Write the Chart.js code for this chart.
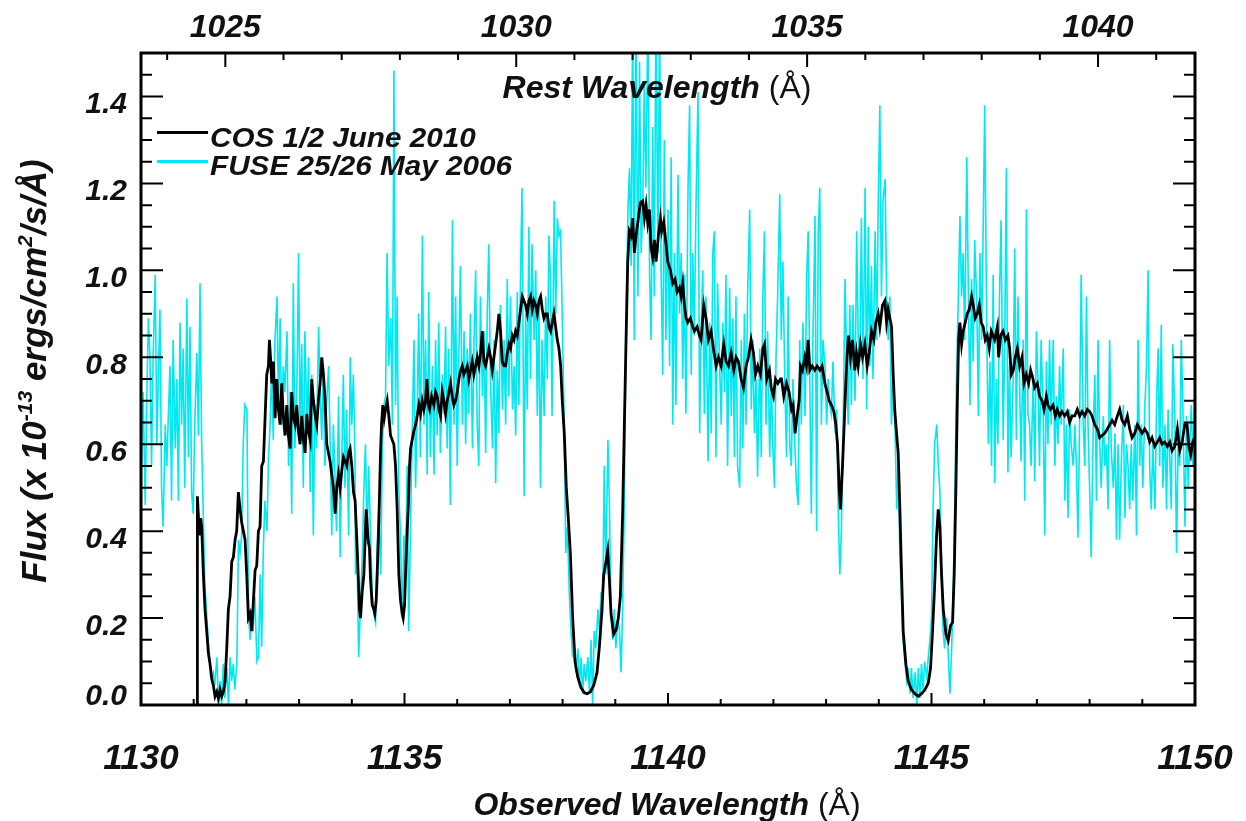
<!DOCTYPE html>
<html>
<head>
<meta charset="utf-8">
<script src="https://cdn.jsdelivr.net/npm/chart.js@4.4.0/dist/chart.umd.min.js"></script>
<style>
  html, body { margin: 0; padding: 0; background: #fff; }
  canvas { display: block; }
</style>
</head>
<body>
<canvas id="c" width="1246" height="821"></canvas>
<script>
// ---------------- DATA ----------------
const redshiftFactor = 1.104; // observed / rest wavelength (1+z)

const obsTicks = [1130, 1135, 1140, 1145, 1150];
const obsMinorTicks = [1131, 1132, 1133, 1134, 1136, 1137, 1138, 1139, 1141, 1142, 1143, 1144, 1146, 1147, 1148, 1149];
const restTicks = [1025, 1030, 1035, 1040];
const restMinorTicks = [1024, 1026, 1027, 1028, 1029, 1031, 1032, 1033, 1034, 1036, 1037, 1038, 1039, 1041];
const fluxTicks = [0.0, 0.2, 0.4, 0.6, 0.8, 1.0, 1.2, 1.4];
const fluxMinorTicks = [0.05, 0.1, 0.15, 0.25, 0.3, 0.35, 0.45, 0.5, 0.55, 0.65, 0.7, 0.75, 0.85, 0.9, 0.95, 1.05, 1.1, 1.15, 1.25, 1.3, 1.35, 1.45];

const seriesLabels = ['COS 1/2 June 2010', 'FUSE 25/26 May 2006'];

// COS (black) observed wavelength (Å) and flux
const cosWave = [
1131.065,1131.07,1131.108,1131.133,1131.152,1131.184,1131.215,1131.247,1131.278,1131.310,
1131.342,1131.373,1131.405,1131.437,1131.468,1131.500,1131.532,1131.563,1131.595,1131.627,
1131.658,1131.690,1131.722,1131.753,1131.785,1131.816,1131.848,1131.880,1131.911,1131.943,
1131.975,1132.006,1132.038,1132.070,1132.101,1132.133,1132.165,1132.196,1132.228,1132.259,
1132.291,1132.323,1132.354,1132.386,1132.418,1132.437,1132.462,1132.481,1132.513,1132.544,
1132.576,1132.608,1132.639,1132.671,1132.703,1132.734,1132.766,1132.797,1132.829,1132.861,
1132.892,1132.924,1132.956,1132.987,1133.019,1133.051,1133.082,1133.114,1133.146,1133.177,
1133.209,1133.240,1133.272,1133.304,1133.335,1133.367,1133.399,1133.430,1133.462,1133.494,
1133.525,1133.557,1133.589,1133.620,1133.652,1133.684,1133.715,1133.747,1133.778,1133.810,
1133.842,1133.873,1133.905,1133.937,1133.968,1134.000,1134.032,1134.063,
1134.102,1134.121,1134.146,1134.165,1134.197,1134.229,1134.260,1134.273,1134.311,1134.336,
1134.355,1134.387,1134.418,1134.437,1134.463,1134.482,1134.513,1134.545,1134.564,1134.589,
1134.615,1134.640,1134.672,1134.703,1134.735,1134.766,1134.798,1134.830,1134.861,1134.893,
1134.925,1134.956,1134.975,1135.001,1135.020,1135.051,1135.070,1135.096,1135.115,1135.146,
1135.178,1135.210,1135.241,1135.273,1135.304,1135.336,1135.368,1135.399,1135.425,1135.450,
1135.475,1135.513,1135.558,1135.589,1135.621,1135.653,1135.684,1135.716,1135.748,1135.779,
1135.811,1135.842,1135.874,1135.906,1135.937,1135.969,1136.001,1136.032,1136.064,1136.096,
1136.127,1136.159,1136.191,1136.222,1136.254,1136.285,1136.317,1136.349,1136.380,1136.412,
1136.444,1136.475,1136.507,1136.539,1136.570,1136.602,1136.634,1136.665,1136.697,1136.729,
1136.760,1136.792,1136.823,1136.855,1136.887,1136.918,1136.950,1136.982,1137.013,1137.045,
1137.077,1137.108,1137.140,1137.172,1137.203,1137.235,1137.266,1137.298,1137.330,1137.361,
1137.393,1137.425,1137.456,1137.488,1137.520,1137.551,1137.583,1137.615,1137.646,1137.678,
1137.710,1137.741,1137.773,1137.804,1137.836,1137.868,1137.899,1137.931,1137.963,1137.994,
1138.032,1138.070,1138.108,
1138.147,1138.191,1138.236,1138.286,1138.349,1138.413,1138.463,1138.527,1138.590,1138.653,
1138.698,1138.742,1138.780,1138.824,1138.856,1138.887,1138.919,1138.970,1139.014,1139.058,
1139.096,1139.141,1139.172,1139.204,1139.236,1139.267,1139.299,1139.330,1139.362,1139.394,
1139.438,1139.476,1139.520,1139.552,1139.584,1139.615,1139.647,1139.679,1139.710,1139.742,
1139.774,1139.818,1139.856,1139.881,1139.919,1139.963,1139.995,1140.046,1140.090,1140.134,
1140.172,1140.217,1140.248,1140.280,1140.312,1140.343,1140.375,1140.425,1140.470,1140.501,
1140.552,1140.596,1140.628,1140.679,1140.723,1140.767,1140.818,1140.862,1140.913,1140.957,
1141.008,1141.058,1141.103,1141.147,1141.198,1141.248,1141.293,1141.337,1141.387,1141.432,
1141.482,1141.527,1141.577,1141.622,1141.660,1141.704,1141.755,1141.799,1141.831,1141.875,
1141.925,1141.957,1142.001,1142.039,1142.084,1142.134,
1142.153,1142.197,1142.248,1142.298,1142.343,1142.374,1142.412,1142.450,1142.488,1142.514,
1142.552,1142.596,1142.628,1142.659,1142.691,1142.735,1142.786,1142.830,1142.881,1142.925,
1142.976,1143.020,1143.058,1143.102,1143.147,1143.185,1143.216,1143.248,1143.273,1143.311,
1143.343,1143.374,1143.400,1143.425,1143.463,1143.501,1143.545,1143.577,1143.609,1143.653,
1143.691,1143.735,1143.780,1143.818,1143.862,1143.906,1143.944,1143.988,1144.020,1144.071,
1144.115,1144.147,1144.178,1144.210,1144.242,1144.273,1144.305,1144.337,1144.368,1144.400,
1144.432,1144.463,1144.514,1144.558,1144.621,1144.685,1144.748,1144.811,1144.874,1144.938,
1144.982,1145.020,1145.058,1145.096,1145.128,1145.159,1145.191,1145.223,1145.273,1145.317,
1145.362,1145.400,1145.431,1145.463,1145.489,1145.514,1145.539,1145.571,1145.602,1145.640,
1145.678,1145.716,1145.761,1145.792,1145.830,1145.868,1145.906,1145.944,1145.982,1146.020,
1146.058,1146.096,1146.134,
1146.198,1146.249,1146.274,1146.312,1146.356,1146.400,1146.451,1146.483,1146.514,1146.552,
1146.590,1146.628,1146.673,1146.717,1146.755,1146.799,1146.843,1146.881,1146.926,1146.957,
1147.008,1147.052,1147.097,1147.135,1147.179,1147.211,1147.255,1147.306,1147.350,1147.388,
1147.432,1147.476,1147.527,1147.578,1147.622,1147.666,1147.717,1147.767,1147.812,1147.856,
1147.907,1147.957,1148.002,1148.046,1148.097,1148.147,1148.192,1148.236,1148.286,1148.337,
1148.381,1148.426,1148.476,1148.527,1148.571,1148.616,1148.666,1148.717,1148.761,1148.806,
1148.856,1148.907,1148.951,1148.995,1149.046,1149.097,1149.141,1149.185,1149.236,1149.286,
1149.331,1149.375,1149.426,1149.476,1149.521,1149.565,1149.616,1149.666,1149.711,1149.755,
1149.806,1149.850,1149.882,1149.919,1149.957,1149.995,1150.021
];
const cosFlux = [
0.0,0.48,0.39,0.43,0.41,0.30,0.22,0.17,0.12,0.094,
0.06,0.045,0.02,0.03,0.015,0.035,0.02,0.03,0.055,0.13,
0.22,0.25,0.33,0.34,0.38,0.40,0.49,0.45,0.42,0.40,
0.38,0.30,0.20,0.21,0.17,0.24,0.31,0.32,0.40,0.41,
0.55,0.56,0.66,0.76,0.78,0.84,0.79,0.74,0.79,0.66,
0.75,0.68,0.645,0.74,0.66,0.62,0.69,0.62,0.59,0.72,
0.66,0.645,0.69,0.63,0.60,0.665,0.61,0.58,0.67,0.63,
0.61,0.75,0.70,0.665,0.645,0.70,0.74,0.80,0.76,0.70,
0.60,0.58,0.56,0.53,0.50,0.44,0.50,0.53,0.50,0.54,
0.57,0.56,0.55,0.58,0.59,0.55,0.49,0.47,
0.36,0.30,0.22,0.20,0.26,0.30,0.41,0.45,0.38,0.36,
0.29,0.23,0.22,0.21,0.24,0.30,0.42,0.58,0.645,0.69,
0.66,0.68,0.70,0.665,0.62,0.61,0.60,0.55,0.45,0.30,
0.24,0.21,0.20,0.23,0.30,0.40,0.45,0.55,0.59,0.61,
0.63,0.645,0.665,0.69,0.67,0.70,0.68,0.70,0.75,0.69,
0.68,0.71,0.69,0.72,0.71,0.68,0.665,0.72,0.70,0.67,
0.70,0.72,0.74,0.71,0.69,0.70,0.72,0.75,0.77,0.78,
0.76,0.77,0.78,0.75,0.77,0.79,0.76,0.78,0.80,0.78,
0.81,0.86,0.79,0.78,0.80,0.82,0.80,0.77,0.80,0.83,
0.86,0.90,0.86,0.79,0.78,0.78,0.81,0.83,0.82,0.85,
0.84,0.86,0.85,0.88,0.91,0.94,0.93,0.92,0.90,0.93,
0.94,0.91,0.93,0.92,0.90,0.93,0.94,0.91,0.89,0.90,
0.90,0.87,0.86,0.88,0.90,0.87,0.84,0.82,0.78,0.70,
0.625,0.50,0.43,
0.35,0.20,0.10,0.065,0.04,0.028,0.026,0.03,0.045,0.075,
0.134,0.21,0.30,0.33,0.355,0.29,0.21,0.163,0.173,0.20,
0.25,0.45,0.645,0.84,1.02,1.09,1.08,1.12,1.04,1.08,
1.12,1.156,1.16,1.12,1.15,1.11,1.14,1.05,1.03,1.07,
1.02,1.08,1.12,1.09,1.11,1.06,1.02,1.00,0.97,0.98,
0.95,0.96,0.94,0.97,0.92,0.89,0.88,0.89,0.87,0.86,
0.87,0.85,0.84,0.92,0.89,0.84,0.86,0.82,0.78,0.80,
0.78,0.83,0.79,0.78,0.81,0.77,0.80,0.79,0.75,0.73,
0.78,0.80,0.84,0.81,0.76,0.78,0.76,0.82,0.83,0.75,
0.77,0.73,0.71,0.75,0.74,0.75,
0.75,0.71,0.74,0.72,0.68,0.69,0.625,0.665,0.70,0.78,
0.77,0.80,0.78,0.84,0.77,0.78,0.77,0.78,0.77,0.78,
0.74,0.72,0.70,0.69,0.675,0.645,0.60,0.50,0.45,0.55,
0.645,0.74,0.81,0.85,0.80,0.84,0.77,0.81,0.78,0.83,
0.80,0.83,0.78,0.81,0.86,0.84,0.88,0.90,0.87,0.92,
0.93,0.88,0.91,0.89,0.87,0.76,0.675,0.625,0.58,0.45,
0.30,0.17,0.094,0.055,0.035,0.026,0.02,0.026,0.035,0.05,
0.085,0.17,0.27,0.39,0.45,0.41,0.30,0.22,0.163,0.148,
0.183,0.19,0.30,0.50,0.69,0.84,0.88,0.83,0.86,0.88,
0.90,0.91,0.94,0.92,0.89,0.90,0.92,0.88,0.87,0.84,
0.85,0.82,0.86,
0.84,0.87,0.80,0.85,0.86,0.84,0.85,0.82,0.76,0.77,
0.80,0.82,0.78,0.80,0.74,0.76,0.74,0.77,0.75,0.73,
0.74,0.71,0.70,0.68,0.71,0.69,0.68,0.69,0.665,0.68,
0.665,0.675,0.665,0.675,0.65,0.665,0.665,0.68,0.665,0.675,
0.665,0.68,0.675,0.665,0.645,0.635,0.615,0.62,0.625,0.635,
0.645,0.655,0.645,0.665,0.68,0.655,0.645,0.665,0.635,0.615,
0.625,0.645,0.635,0.625,0.635,0.625,0.605,0.615,0.595,0.605,
0.615,0.60,0.605,0.595,0.605,0.585,0.595,0.635,0.585,0.605,
0.645,0.645,0.595,0.575,0.605,0.615,0.605
];

// FUSE (cyan) observed wavelength (Å) and flux
const fuseWave = [
1129.98,1130.01,1130.04,1130.08,1130.11,1130.14,1130.17,1130.20,1130.23,1130.27,
1130.30,1130.33,1130.36,1130.39,1130.42,1130.46,1130.49,1130.52,1130.55,1130.58,
1130.61,1130.65,1130.68,1130.71,1130.74,1130.77,1130.80,1130.83,1130.87,1130.90,
1130.93,1130.96,1130.99,1131.02,1131.06,1131.09,1131.12,1131.15,1131.18,1131.21,
1131.25,1131.28,1131.31,1131.34,1131.37,1131.40,1131.44,1131.47,1131.50,1131.53,
1131.56,1131.59,1131.63,1131.66,1131.69,1131.72,1131.75,1131.78,1131.82,1131.85,
1131.88,1131.91,1131.94,1131.97,1132.01,1132.04,1132.07,1132.10,1132.13,1132.16,
1132.20,1132.23,1132.26,1132.29,1132.32,1132.35,1132.39,1132.42,1132.45,1132.48,
1132.51,1132.54,1132.58,1132.61,1132.64,1132.67,1132.70,1132.73,1132.77,1132.80,
1132.83,1132.86,1132.89,1132.92,1132.96,1132.99,1133.02,1133.05,1133.08,1133.11,
1133.15,1133.18,1133.21,1133.24,1133.27,1133.30,1133.33,1133.37,1133.40,1133.43,
1133.46,1133.49,1133.52,1133.56,1133.59,1133.62,1133.65,1133.68,1133.71,1133.75,
1133.78,1133.81,1133.84,1133.87,1133.90,1133.94,1133.97,1134.00,1134.03,1134.06,
1134.07,1134.10,1134.13,1134.17,1134.20,1134.23,1134.26,1134.29,
1134.32,1134.36,1134.39,1134.42,1134.45,1134.48,1134.51,1134.55,1134.58,1134.61,
1134.64,1134.67,1134.70,1134.74,1134.77,1134.80,1134.83,1134.86,1134.89,1134.92,
1134.96,1134.99,1135.02,1135.05,1135.08,1135.12,1135.15,1135.18,1135.21,1135.24,
1135.27,1135.30,1135.34,1135.37,1135.40,1135.43,1135.46,1135.49,1135.53,1135.56,
1135.59,1135.62,1135.65,1135.68,1135.72,1135.75,1135.78,1135.81,1135.84,1135.87,
1135.91,1135.94,1135.97,1136.00,1136.03,1136.06,1136.10,1136.13,1136.16,1136.19,
1136.22,1136.25,1136.29,1136.32,1136.35,1136.38,1136.41,1136.44,1136.48,1136.51,
1136.54,1136.57,1136.60,1136.63,1136.67,1136.70,1136.73,1136.76,1136.79,1136.82,
1136.86,1136.89,1136.92,1136.95,1136.98,1137.01,1137.05,1137.08,1137.11,1137.14,
1137.17,1137.20,1137.23,1137.27,1137.30,1137.33,1137.36,1137.39,1137.42,1137.46,
1137.49,1137.52,1137.55,1137.58,1137.61,1137.65,1137.68,1137.71,1137.74,1137.77,
1137.80,1137.84,1137.87,1137.90,1137.93,1137.96,1137.99,1138.03,1138.06,1138.09,
1138.13,1138.16,1138.19,1138.22,1138.25,1138.29,1138.32,
1138.35,1138.38,1138.41,1138.44,1138.48,1138.51,1138.54,1138.57,1138.60,1138.63,
1138.67,1138.70,1138.73,1138.76,1138.79,1138.82,1138.86,1138.89,1138.92,1138.95,
1138.98,1139.01,1139.05,1139.08,1139.11,1139.14,1139.17,1139.20,1139.24,1139.27,
1139.30,1139.33,1139.36,1139.39,1139.43,1139.46,1139.49,1139.52,1139.55,1139.58,
1139.62,1139.65,1139.68,1139.71,1139.74,1139.77,1139.81,1139.84,1139.87,1139.90,
1139.93,1139.96,1140.00,1140.03,1140.06,1140.09,1140.12,1140.15,1140.19,1140.22,
1140.25,1140.28,1140.31,1140.34,1140.38,1140.41,1140.44,1140.47,1140.50,1140.53,
1140.57,1140.60,1140.63,1140.66,1140.69,1140.72,1140.76,1140.79,1140.82,1140.85,
1140.88,1140.91,1140.94,1140.98,1141.01,1141.04,1141.07,1141.10,1141.13,1141.17,
1141.20,1141.23,1141.26,1141.29,1141.32,1141.36,1141.39,1141.42,1141.45,1141.48,
1141.51,1141.55,1141.58,1141.61,1141.64,1141.67,1141.70,1141.74,1141.77,1141.80,
1141.83,1141.86,1141.89,1141.93,1141.96,1141.99,1142.02,1142.05,1142.08,1142.12,
1142.15,1142.18,1142.22,1142.25,1142.28,1142.31,1142.34,
1142.37,1142.41,1142.44,1142.47,1142.50,1142.53,1142.56,1142.60,1142.63,1142.66,
1142.69,1142.72,1142.75,1142.79,1142.82,1142.85,1142.88,1142.91,1142.94,1142.98,
1143.01,1143.04,1143.07,1143.10,1143.13,1143.17,1143.20,1143.23,1143.26,1143.29,
1143.32,1143.36,1143.39,1143.42,1143.45,1143.48,1143.51,1143.55,1143.58,1143.61,
1143.64,1143.67,1143.70,1143.74,1143.77,1143.80,1143.83,1143.86,1143.89,1143.93,
1143.96,1143.99,1144.02,1144.05,1144.08,1144.12,1144.15,1144.18,1144.21,1144.24,
1144.27,1144.31,1144.34,1144.37,1144.40,1144.43,1144.46,1144.50,1144.53,1144.56,
1144.59,1144.62,1144.65,1144.69,1144.72,1144.75,1144.78,1144.81,1144.84,1144.87,
1144.91,1144.94,1144.97,1145.00,1145.03,1145.06,1145.10,1145.13,1145.16,1145.19,
1145.22,1145.25,1145.29,1145.32,1145.35,1145.38,1145.41,1145.44,1145.48,1145.51,
1145.54,1145.57,1145.60,1145.63,1145.67,1145.70,1145.73,1145.76,1145.79,1145.82,
1145.86,1145.89,1145.92,1145.95,1145.98,1146.01,1146.05,1146.08,1146.11,1146.14,
1146.17,1146.20,1146.23,1146.26,1146.29,
1146.32,1146.36,1146.39,1146.42,1146.45,1146.48,1146.51,1146.55,1146.58,1146.61,
1146.64,1146.67,1146.70,1146.74,1146.77,1146.80,1146.83,1146.86,1146.89,1146.93,
1146.96,1146.99,1147.02,1147.05,1147.08,1147.12,1147.15,1147.18,1147.21,1147.24,
1147.27,1147.31,1147.34,1147.37,1147.40,1147.43,1147.46,1147.50,1147.53,1147.56,
1147.59,1147.62,1147.65,1147.69,1147.72,1147.75,1147.78,1147.81,1147.84,1147.88,
1147.91,1147.94,1147.97,1148.00,1148.03,1148.07,1148.10,1148.13,1148.16,1148.19,
1148.22,1148.26,1148.29,1148.32,1148.35,1148.38,1148.41,1148.45,1148.48,1148.51,
1148.54,1148.57,1148.60,1148.64,1148.67,1148.70,1148.73,1148.76,1148.79,1148.82,
1148.86,1148.89,1148.92,1148.95,1148.98,1149.01,1149.05,1149.08,1149.11,1149.14,
1149.17,1149.20,1149.24,1149.27,1149.30,1149.33,1149.36,1149.39,1149.43,1149.46,
1149.49,1149.52,1149.55,1149.58,1149.62,1149.65,1149.68,1149.71,1149.74,1149.77,
1149.81,1149.84,1149.87,1149.90,1149.93,1149.96,1150.00,1150.03
];
const fuseFlux = [
0.65,0.55,0.72,0.46,0.70,0.89,0.80,0.55,0.80,0.99,
0.60,0.76,0.91,0.50,0.41,0.645,0.55,0.67,0.78,0.47,
0.84,0.59,0.75,0.47,0.88,0.645,0.82,0.50,0.935,0.57,
0.87,0.49,0.44,0.645,0.81,0.62,0.97,0.61,0.45,0.28,
0.20,0.14,0.10,0.065,0.075,0.045,0.11,0.0,0.055,0.0,
0.094,0.016,0.085,0.0,0.11,0.055,0.094,0.035,0.10,0.38,
0.35,0.39,0.60,0.69,0.68,0.21,0.15,0.20,0.18,0.25,
0.10,0.11,0.30,0.134,0.35,0.47,0.40,0.57,0.645,0.78,
0.61,0.83,0.94,0.68,0.89,0.645,0.78,0.72,0.86,0.55,
0.72,0.44,0.97,0.59,0.75,1.04,0.60,0.83,0.50,0.86,
0.645,0.80,0.49,0.76,0.39,0.69,0.59,0.87,0.72,0.61,
0.78,0.55,0.69,0.78,0.60,0.39,0.645,0.53,0.40,0.71,
0.34,0.57,0.76,0.50,0.68,0.39,0.80,0.645,0.76,0.57,
0.30,0.35,0.11,0.25,0.35,0.50,0.60,0.37,
0.55,0.37,0.25,0.21,0.19,0.36,0.45,0.30,0.60,0.69,
0.71,1.04,0.78,0.89,0.645,1.46,0.69,0.94,0.50,0.40,
0.20,0.39,0.30,0.55,0.17,0.45,0.645,0.84,0.50,0.665,
0.90,0.57,1.08,0.645,0.84,0.53,0.95,0.57,0.78,0.53,
0.84,0.62,0.88,0.58,0.76,0.67,0.87,0.59,0.82,0.46,
1.115,0.645,0.94,0.55,0.79,1.01,0.645,0.86,0.60,0.82,
0.67,0.90,0.59,0.84,1.00,0.645,0.55,0.94,0.71,0.86,
0.58,0.90,1.06,0.75,0.59,0.84,0.51,0.77,0.625,0.92,
0.68,0.84,0.645,0.98,0.71,0.94,0.68,0.78,0.62,0.95,
0.69,0.97,1.19,0.48,0.90,0.68,1.10,0.75,1.06,0.84,
1.00,0.665,0.92,0.50,0.84,0.665,0.94,0.75,1.08,0.98,
0.665,1.16,0.90,1.12,1.08,1.09,0.92,0.645,0.35,0.41,
0.25,0.17,0.11,0.15,0.075,0.13,0.045,
0.11,0.026,0.094,0.055,0.11,0.026,0.15,0.0,0.17,0.13,
0.22,0.17,0.26,0.21,0.55,0.30,0.61,0.45,0.20,0.15,
0.22,0.13,0.20,0.17,0.075,0.23,0.45,0.84,1.14,1.235,
1.01,1.6,0.84,1.6,0.94,1.48,1.04,1.14,1.43,1.19,
1.6,0.99,0.84,1.33,0.94,1.6,1.04,1.6,0.99,0.76,
1.30,0.84,1.14,0.78,1.26,0.645,1.04,0.69,1.22,0.90,
1.04,0.75,0.99,0.67,1.19,1.38,0.76,1.04,0.85,1.14,
1.41,0.625,0.86,1.00,0.67,0.94,0.56,0.88,0.625,1.04,
1.09,0.57,0.97,0.78,0.645,0.88,0.72,0.99,0.55,0.96,
0.665,0.89,0.57,0.94,0.55,0.50,0.84,0.59,0.90,0.645,
0.94,1.14,0.68,0.84,0.625,0.75,0.525,0.82,0.57,0.94,
1.09,0.645,0.86,0.57,0.75,0.59,0.50,0.80,0.94,1.175,
0.84,1.02,0.72,0.57,0.94,0.60,0.55,
0.75,0.59,0.50,0.46,0.84,0.645,0.88,0.665,0.98,1.09,
0.75,0.44,0.84,1.125,0.40,1.08,1.19,0.645,0.84,0.78,
0.645,0.75,0.69,0.67,0.79,0.625,0.68,0.45,0.30,0.40,
0.60,0.98,0.79,0.645,0.92,0.69,0.92,0.70,1.09,0.84,
0.79,1.12,0.75,1.19,0.68,1.10,0.78,1.01,0.75,1.09,
0.84,1.16,1.38,0.94,1.16,1.21,0.92,0.84,0.94,0.645,
0.75,0.625,0.45,0.55,0.35,0.25,0.15,0.094,0.055,0.085,
0.026,0.085,0.016,0.075,0.0,0.085,0.016,0.094,0.035,0.10,
0.065,0.11,0.15,0.20,0.45,0.60,0.645,0.55,0.49,0.30,
0.17,0.13,0.20,0.11,0.026,0.12,0.25,0.45,0.79,0.94,
1.125,0.94,1.04,0.84,1.26,0.94,0.69,0.98,0.79,1.07,
0.92,0.665,1.04,0.84,1.09,1.38,0.84,0.60,0.79,0.55,
0.99,0.51,0.75,0.60,0.94,
1.115,0.61,0.84,1.235,0.535,0.78,0.57,0.75,1.05,0.61,
0.94,0.75,0.56,0.84,0.47,1.14,0.67,0.645,0.55,0.76,
0.515,0.86,0.75,0.55,0.84,0.665,0.39,0.79,0.60,0.84,
0.645,0.84,0.55,0.71,0.60,0.78,0.645,0.82,0.47,0.645,
0.43,0.68,0.60,0.55,0.645,0.55,0.385,0.645,0.99,0.645,
0.55,0.94,0.645,0.50,0.34,0.645,0.76,0.47,0.84,0.61,
0.50,0.665,0.55,0.60,0.45,0.84,0.59,0.50,0.625,0.38,
0.60,0.38,0.55,0.69,0.43,0.60,0.55,0.45,0.60,0.47,
0.645,0.39,0.84,0.55,0.645,0.50,0.69,0.78,1.00,0.55,
0.45,0.60,0.45,0.69,0.82,0.55,0.875,0.50,0.645,0.45,
0.68,0.57,0.45,0.83,0.645,0.35,0.60,0.55,0.84,0.68,
0.41,0.665,0.50,0.60,0.69,0.55,0.73,0.525
];

// ---------------- STYLE ----------------
const TEXT = '#111111';
const FONT_FAMILY = '"Liberation Sans", Arial, Helvetica, sans-serif';
const COS_COLOR = '#000000';
const FUSE_COLOR = '#00e8f2';

function drawRuns(ctx, runs, x, y, align) {
  let total = 0;
  runs.forEach(r => { ctx.font = r.font; r.w = ctx.measureText(r.t).width; total += r.w; });
  let cx = align === 'center' ? x - total / 2 : (align === 'right' ? x - total : x);
  ctx.textAlign = 'left';
  ctx.textBaseline = 'alphabetic';
  runs.forEach(r => { ctx.font = r.font; ctx.fillText(r.t, cx, y - (r.dy || 0)); cx += r.w; });
}

const framePlugin = {
  id: 'idlFrame',
  beforeDraw(chart) {
    const ctx = chart.ctx;
    ctx.save();
    ctx.fillStyle = '#ffffff';
    ctx.fillRect(0, 0, chart.width, chart.height);
    ctx.restore();
  },
  afterDatasetsDraw(chart) {
    const { ctx, chartArea: a, scales } = chart;
    const xs = scales.x, ys = scales.y, xt = scales.xTop;
    ctx.save();
    ctx.strokeStyle = '#000';
    ctx.lineCap = 'butt';
    ctx.lineWidth = 2;
    ctx.beginPath();
    const vTick = (px, y0, len) => { ctx.moveTo(px, y0); ctx.lineTo(px, y0 + len); };
    const hTick = (py, x0, len) => { ctx.moveTo(x0, py); ctx.lineTo(x0 + len, py); };
    obsMinorTicks.forEach(v => vTick(xs.getPixelForValue(v), a.bottom, -6));
    obsTicks.forEach(v => vTick(xs.getPixelForValue(v), a.bottom, -12));
    restMinorTicks.forEach(v => vTick(xt.getPixelForValue(v), a.top, 7));
    restTicks.forEach(v => vTick(xt.getPixelForValue(v), a.top, 14));
    fluxMinorTicks.forEach(v => { const py = ys.getPixelForValue(v); hTick(py, a.left, 11); hTick(py, a.right, -11); });
    fluxTicks.forEach(v => { const py = ys.getPixelForValue(v); hTick(py, a.left, 22); hTick(py, a.right, -22); });
    ctx.stroke();
    ctx.lineWidth = 3;
    ctx.strokeRect(a.left, a.top, a.right - a.left, a.bottom - a.top);

    ctx.fillStyle = TEXT;
    const bi = s => 'italic bold ' + s + 'px ' + FONT_FAMILY;
    const rg = s => 'normal ' + s + 'px ' + FONT_FAMILY;

    // bottom tick labels
    obsTicks.forEach(v => drawRuns(ctx, [{ t: String(v), font: bi(35) }], xs.getPixelForValue(v), 769, 'center'));
    // top tick labels
    restTicks.forEach(v => drawRuns(ctx, [{ t: String(v), font: bi(32) }], xt.getPixelForValue(v), 37, 'center'));
    // left tick labels
    fluxTicks.forEach(v => {
      const py = Math.min(ys.getPixelForValue(v) + 17, a.bottom);
      drawRuns(ctx, [{ t: v.toFixed(1), font: bi(30) }], 127, py, 'right');
    });

    // axis titles
    drawRuns(ctx, [{ t: 'Observed Wavelength ', font: bi(32) }, { t: '(Å)', font: rg(32) }], 667, 815, 'center');
    drawRuns(ctx, [{ t: 'Rest Wavelength ', font: bi(32) }, { t: '(Å)', font: rg(32) }], 657, 98, 'center');

    ctx.save();
    ctx.translate(46, 371);
    ctx.rotate(-Math.PI / 2);
    drawRuns(ctx, [
      { t: 'Flux (x 10', font: bi(35) },
      { t: '-13', font: bi(21), dy: 14 },
      { t: ' ergs/cm', font: bi(35) },
      { t: '2', font: bi(21), dy: 14 },
      { t: '/s/Å)', font: bi(35) }
    ], 0, 0, 'center');
    ctx.restore();

    // legend
    const ds = chart.data.datasets;
    const rows = [{ y: 132.5, base: 146.5 }, { y: 161.5, base: 175 }];
    ds.forEach((d, i) => {
      ctx.strokeStyle = d.borderColor;
      ctx.lineWidth = 3;
      ctx.beginPath();
      ctx.moveTo(157, rows[i].y);
      ctx.lineTo(208, rows[i].y);
      ctx.stroke();
      ctx.fillStyle = TEXT;
      ctx.save();
      ctx.translate(210, rows[i].base);
      ctx.scale(1.1, 1);
      drawRuns(ctx, [{ t: d.label, font: bi(27) }], 0, 0, 'left');
      ctx.restore();
    });
    ctx.restore();
  }
};

const toPoints = (xs, ys) => xs.map((x, i) => ({ x: x, y: ys[i] }));

new Chart(document.getElementById('c'), {
  type: 'line',
  data: {
    datasets: [
      { label: seriesLabels[0], data: toPoints(cosWave, cosFlux), borderColor: COS_COLOR, borderWidth: 2.8, pointRadius: 0, tension: 0, clip: 0, xAxisID: 'x', yAxisID: 'y' },
      { label: seriesLabels[1], data: toPoints(fuseWave, fuseFlux), borderColor: FUSE_COLOR, borderWidth: 1.6, pointRadius: 0, tension: 0, clip: 0, xAxisID: 'x', yAxisID: 'y' }
    ]
  },
  options: {
    responsive: false,
    devicePixelRatio: 1,
    animation: false,
    parsing: true,
    layout: { padding: { left: 141, right: 51, top: 53, bottom: 116 } },
    plugins: { legend: { display: false }, tooltip: { enabled: false }, title: { display: false } },
    scales: {
      x: { type: 'linear', min: 1130, max: 1150, display: false },
      xTop: { type: 'linear', axis: 'x', position: 'top', min: 1130 / redshiftFactor, max: 1150 / redshiftFactor, display: false },
      y: { type: 'linear', min: 0, max: 1.5, display: false }
    }
  },
  plugins: [framePlugin]
});
</script>
</body>
</html>
